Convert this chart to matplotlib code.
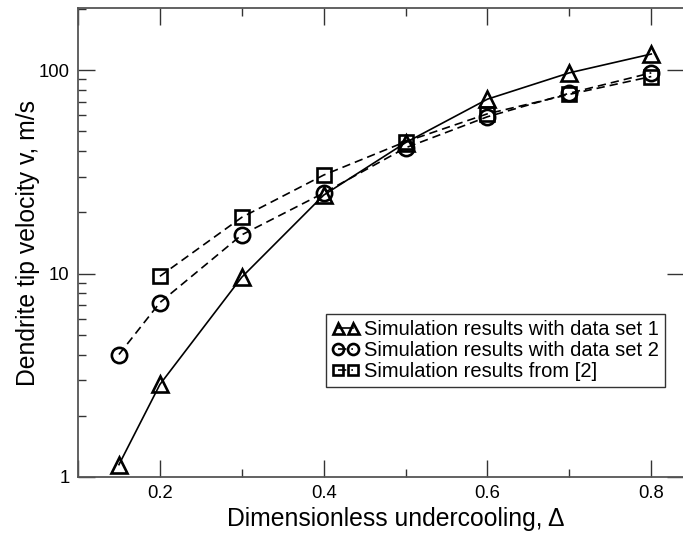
import numpy as np
import matplotlib
matplotlib.use('Agg')
import matplotlib.pyplot as plt
from matplotlib.ticker import LogLocator, NullFormatter, FixedLocator

plt.rcParams['font.family'] = ['Liberation Sans', 'DejaVu Sans']

# data
undercooling = [0.15, 0.2, 0.3, 0.4, 0.5, 0.6, 0.7, 0.8]
v_set1 = [1.15, 2.85, 9.6, 24.3, 44, 72, 97, 120]
v_set2 = [4.0, 7.2, 15.5, 24.9, 41.5, 59, 77, 97]
undercooling_ref = [0.2, 0.3, 0.4, 0.5, 0.6, 0.7, 0.8]
v_ref = [9.7, 18.9, 30.5, 44.5, 61, 76, 93]

fig = plt.figure(figsize=(6.83, 5.38), dpi=100)
ax = fig.add_axes([0.1142, 0.1134, 0.8873, 0.8717])

mk = dict(markersize=11, markeredgewidth=1.9, markerfacecolor='none', markeredgecolor='black')
ax.plot(undercooling, v_set1, '-', color='black', lw=1.2, marker='^', label='Simulation results with data set 1', **mk)
ax.plot(undercooling, v_set2, '--', color='black', lw=1.2, marker='o', label='Simulation results with data set 2', dashes=(5, 3), **mk)
ax.plot(undercooling_ref, v_ref, '--', color='black', lw=1.2, marker='s', label='Simulation results from [2]', dashes=(5, 3), **dict(mk, markersize=9.5))

ax.set_yscale('log')
ax.set_xlim(0.1, 0.84)
ax.set_ylim(1, 202)

ax.xaxis.set_major_locator(FixedLocator([0.1, 0.2, 0.4, 0.6, 0.8]))
ax.xaxis.set_minor_locator(FixedLocator([0.3, 0.5, 0.7]))
ax.set_xticklabels(['', '0.2', '0.4', '0.6', '0.8'])
ax.yaxis.set_major_locator(FixedLocator([1, 10, 100]))
ax.set_yticklabels(['1', '10', '100'])
ax.yaxis.set_minor_locator(LogLocator(base=10, subs=np.arange(2, 10)))
ax.yaxis.set_minor_formatter(NullFormatter())

ax.tick_params(which='both', direction='in', top=True, right=True, labelsize=13.3, color='#333333', width=1.0)
ax.tick_params(which='major', length=12, pad=6)
ax.tick_params(which='minor', length=6)
ax.tick_params(axis='y', which='minor', right=False)
for s in ax.spines.values():
    s.set_color('#555555')
    s.set_linewidth(1.3)

ax.set_xlabel('Dimensionless undercooling, \u0394', fontsize=17.8)
ax.xaxis.set_label_coords(0.525, -0.065)
ax.set_ylabel('Dendrite tip velocity v, m/s', fontsize=17.8)
ax.yaxis.set_label_coords(-0.062, 0.5)

leg = ax.legend(loc='lower right', bbox_to_anchor=(0.969, 0.192), numpoints=2, handlelength=1.35,
                handletextpad=0.25, fontsize=14.5, fancybox=False, edgecolor='#333333',
                framealpha=1, borderpad=0.3, labelspacing=0.1, borderaxespad=0,
                markerscale=0.72)
leg.get_frame().set_linewidth(1.0)

fig.savefig('out.png', dpi=100)
